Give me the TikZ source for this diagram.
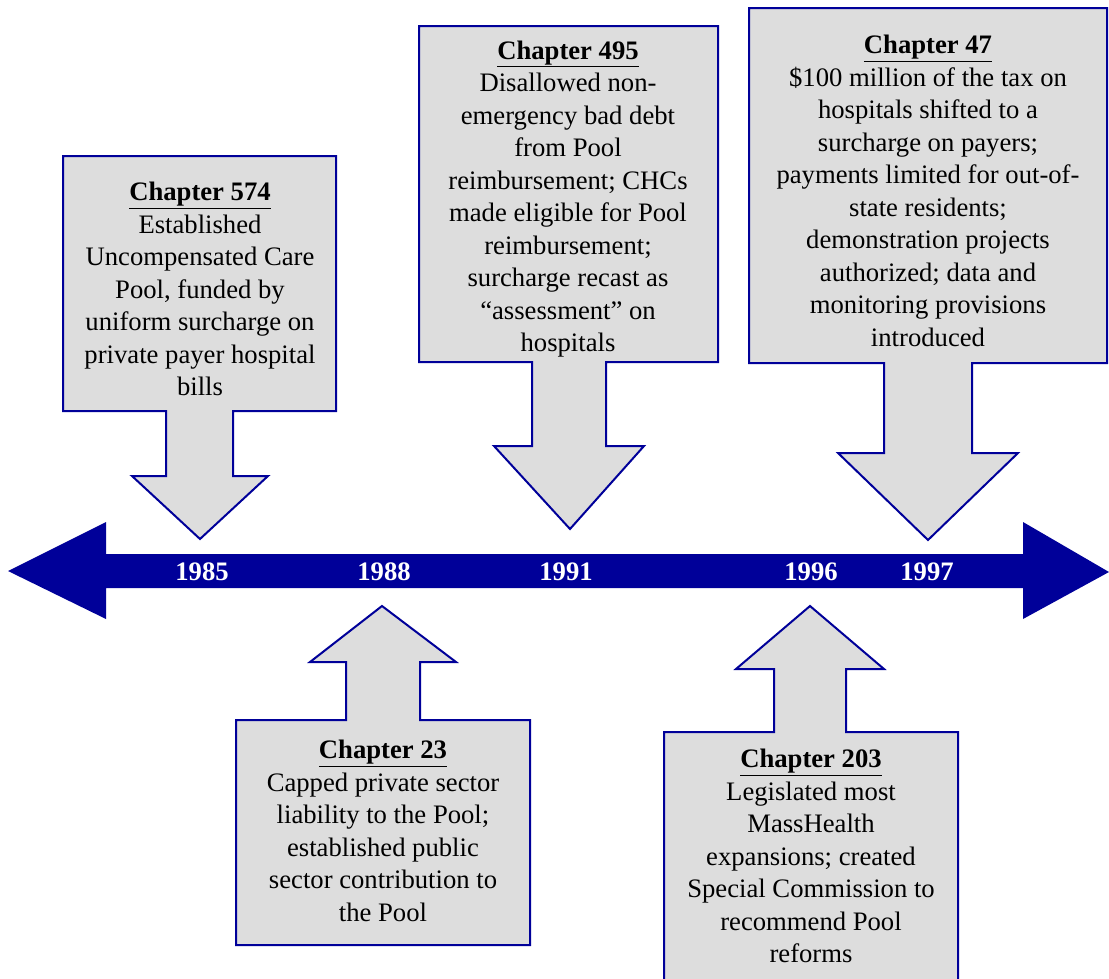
\documentclass[tikz,border=0pt]{standalone}
\usepackage{fontspec}
\setmainfont{Liberation Serif}
\definecolor{navy}{RGB}{0,0,153}
\definecolor{boxgray}{RGB}{221,221,221}
\begin{document}
\begin{tikzpicture}[x=0.75pt,y=-0.75pt,
  callout/.style={draw=navy, fill=boxgray, line width=1.5pt, line join=miter},
  txt/.style={align=center, font=\fontsize{20}{24.4}\selectfont, inner sep=0pt},
  year/.style={text=white, font=\fontsize{20}{24}\selectfont\bfseries, inner sep=0pt}]
\useasboundingbox (0,0) rectangle (1109,978);
\clip (0,0) rectangle (1109,978);
% timeline
\fill[navy] (8,571) -- (106,522) -- (106,554) -- (1023,554) -- (1023,522) -- (1109,572)
  -- (1023,619) -- (1023,588) -- (106,588) -- (106,619) -- cycle;
% callouts
\draw[callout] (63,156) -- (336,156) -- (336,411) -- (233,411) -- (233,476) -- (268,476)
  -- (200,539) -- (132,476) -- (166,476) -- (166,411) -- (63,411) -- cycle;
\draw[callout] (419,26) -- (718,26) -- (718,362) -- (606,362) -- (606,446) -- (644,446)
  -- (570,529) -- (494,446) -- (532,446) -- (532,362) -- (419,362) -- cycle;
\draw[callout] (749,8) -- (1107,8) -- (1107,363) -- (972,363) -- (972,453) -- (1018,453)
  -- (928,540) -- (838,453) -- (884,453) -- (884,363) -- (749,363) -- cycle;
\draw[callout] (382,606) -- (456,662) -- (420,662) -- (420,720) -- (530,720) -- (530,945)
  -- (236,945) -- (236,720) -- (346,720) -- (346,662) -- (310,662) -- cycle;
\draw[callout] (810,606) -- (884,669) -- (846,669) -- (846,732) -- (958,732) -- (958,995)
  -- (664,995) -- (664,732) -- (774,732) -- (774,669) -- (736,669) -- cycle;
% texts
\node[txt] (c574) at (200,289) {\underline{\textbf{Chapter 574}}\\Established\\Uncompensated Care\\Pool, funded by\\uniform surcharge on\\private payer hospital\\bills};
\node[txt] (c495) at (568,199) {\underline{\textbf{Chapter 495}}\\Disallowed non-\\emergency bad debt\\from Pool\\reimbursement; CHCs\\made eligible for Pool\\reimbursement;\\surcharge recast as\\``assessment'' on\\hospitals};
\node[txt] (c47) at (928,191) {\underline{\textbf{Chapter 47}}\\\$100 million of the tax on\\hospitals shifted to a\\surcharge on payers;\\payments limited for out-of-\\state residents;\\demonstration projects\\authorized; data and\\monitoring provisions\\introduced};
\node[txt] (c23) at (383,831) {\underline{\textbf{Chapter 23}}\\Capped private sector\\liability to the Pool;\\established public\\sector contribution to\\the Pool};
\node[txt] (c203) at (811,856) {\underline{\textbf{Chapter 203}}\\Legislated most\\MassHealth\\expansions; created\\Special Commission to\\recommend Pool\\reforms};
% years
\node[year] (y1985) at (202,572) {1985};
\node[year] (y1988) at (384,572) {1988};
\node[year] (y1991) at (566,572) {1991};
\node[year] (y1996) at (811,572) {1996};
\node[year] (y1997) at (927,572) {1997};
\end{tikzpicture}
\end{document}
